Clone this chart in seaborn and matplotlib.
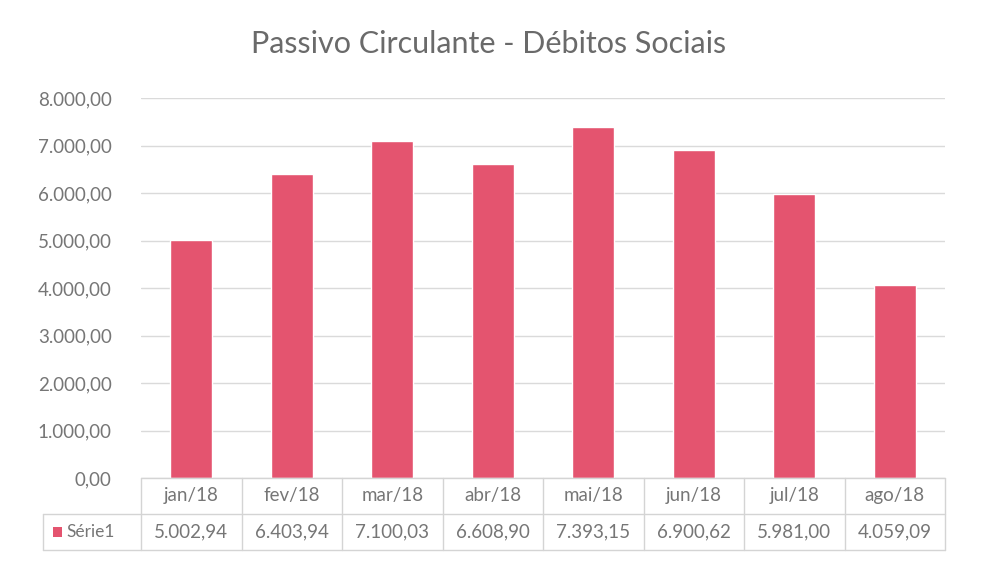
import matplotlib
matplotlib.use("Agg")
import matplotlib.pyplot as plt
import seaborn as sns
import pandas as pd
from matplotlib.transforms import blended_transform_factory
from matplotlib.patches import Rectangle
from matplotlib.lines import Line2D

categories = ["jan/18", "fev/18", "mar/18", "abr/18", "mai/18", "jun/18", "jul/18", "ago/18"]
values = [5002.94, 6403.94, 7100.03, 6608.90, 7393.15, 6900.62, 5981.00, 4059.09]
value_labels = ["5.002,94", "6.403,94", "7.100,03", "6.608,90", "7.393,15", "6.900,62", "5.981,00", "4.059,09"]
yticks = [0, 1000, 2000, 3000, 4000, 5000, 6000, 7000, 8000]
ytick_labels = ["0,00", "1.000,00", "2.000,00", "3.000,00", "4.000,00", "5.000,00", "6.000,00", "7.000,00", "8.000,00"]
series_name = "Série1"
title = "Passivo Circulante - Débitos Sociais"

sns.set_theme(style="white")
plt.rcParams['font.family'] = ['Lato', 'DejaVu Sans']

W, H = 984, 571
fig = plt.figure(figsize=(W / 100, H / 100), dpi=100)
fig.patch.set_facecolor("white")
left, right, top, bottom = 141, 945, 98, 478
ax = fig.add_axes([left / W, 1 - bottom / H, (right - left) / W, (bottom - top) / H])

bar_color = "#E4546F"
text_color = "#767676"
grid_color = "#DADADA"

df = pd.DataFrame({"cat": categories, "val": values})
sns.barplot(data=df, x="cat", y="val", color=bar_color, saturation=1, width=0.42, ax=ax)

ax.set_ylim(0, 8000)
ax.set_xlim(-0.5, len(categories) - 0.5)
ax.set_yticks(yticks)
ax.set_yticklabels(ytick_labels, color=text_color, fontsize=13.5)
ax.tick_params(axis="y", length=0, pad=21)
ax.set_xticks([])
ax.set_xlabel("")
ax.set_ylabel("")
ax.yaxis.grid(True, color=grid_color, linewidth=1)
ax.set_axisbelow(True)
for s in ax.spines.values():
    s.set_visible(False)

fig.text(489 / W, 1 - 44 / H, title, ha="center", va="center",
         fontsize=22, color="#6A6A6A")

# data table below the axes
tr = blended_transform_factory(ax.transData, fig.transFigure)
def fy(py):
    return 1 - py / H

row1_top, row_mid, row2_bot = 478, 514, 550
line_kw = dict(color="#D4D4D4", linewidth=1)
n = len(categories)
for i in range(n + 1):
    x = i - 0.5
    fig.add_artist(Line2D([x, x], [fy(row1_top), fy(row2_bot)], transform=tr, **line_kw))
fig.add_artist(Line2D([left / W, right / W], [fy(row1_top), fy(row1_top)], transform=fig.transFigure, **line_kw))
fig.add_artist(Line2D([43 / W, right / W], [fy(row_mid), fy(row_mid)], transform=fig.transFigure, **line_kw))
fig.add_artist(Line2D([43 / W, right / W], [fy(row2_bot), fy(row2_bot)], transform=fig.transFigure, **line_kw))
fig.add_artist(Line2D([43 / W, 43 / W], [fy(row_mid), fy(row2_bot)], transform=fig.transFigure, **line_kw))

for i, (c, v) in enumerate(zip(categories, value_labels)):
    fig.text(i, fy(496), c, transform=tr, ha="center", va="center", fontsize=13.5, color=text_color)
    fig.text(i, fy(532), v, transform=tr, ha="center", va="center", fontsize=13.5, color=text_color)

fig.add_artist(Rectangle((53 / W, fy(537)), 9 / W, 10 / H, transform=fig.transFigure,
                         facecolor=bar_color, edgecolor="none"))
fig.text(66 / W, fy(532), series_name, ha="left", va="center", fontsize=12.5, color=text_color)

fig.savefig("out.png", dpi=100, facecolor="white")
